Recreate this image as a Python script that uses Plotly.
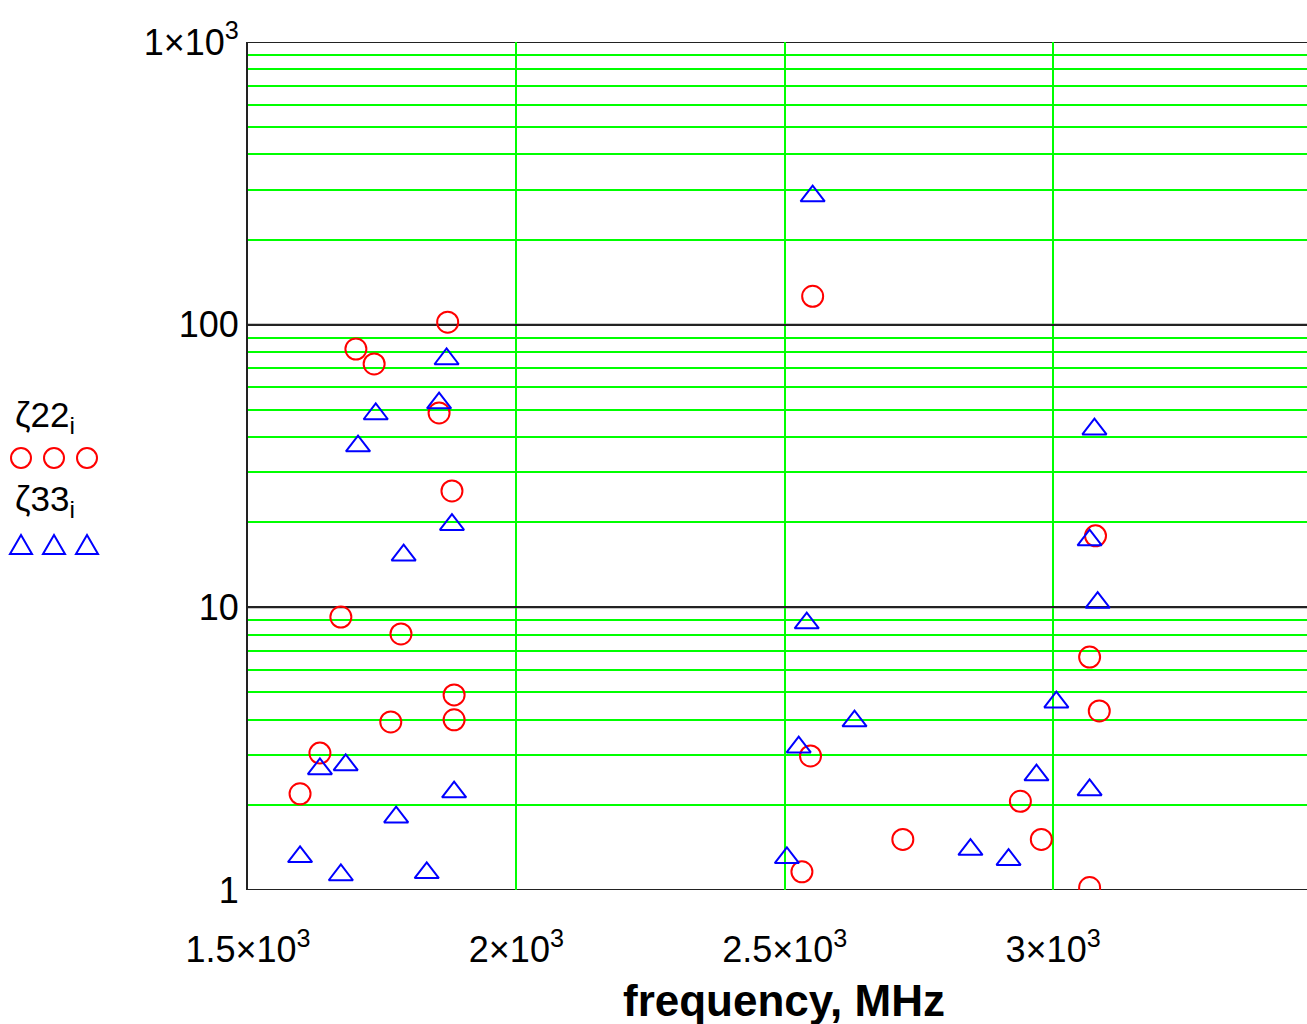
import plotly.graph_objects as go

# ---- data ----
freq22 = [1872, 1701, 1735, 1856, 1880, 1673, 1785, 1884, 1766, 1884, 1634, 1597,
          2552, 2548, 2532, 2720, 2939, 2978, 3068, 3068, 3086, 3079]
zeta22 = [102, 82, 72.6, 48.7, 25.8, 9.24, 8.05, 4.9, 3.93, 4.0, 3.05, 2.19,
          126, 2.98, 1.16, 1.51, 2.06, 1.51, 1.02, 6.67, 4.30, 17.9]

freq33 = [1870, 1856, 1738, 1705, 1880, 1790, 1634, 1682, 1776, 1884, 1597, 1673, 1833,
          2552, 2541, 2526, 2630, 2504, 2846, 2917, 2969, 3006, 3068, 3083, 3068, 3077]
zeta33 = [75.6, 52.8, 48.3, 37.2, 19.6, 15.3, 2.68, 2.77, 1.81, 2.22, 1.31, 1.13, 1.15,
          285, 8.8, 3.2, 3.96, 1.30, 1.39, 1.28, 2.55, 4.62, 2.26, 10.4, 17.3, 42.7]

x_tickvals = [1500, 2000, 2500, 3000]
x_ticktext = ["1.5×10<sup>3</sup>", "2×10<sup>3</sup>", "2.5×10<sup>3</sup>", "3×10<sup>3</sup>"]
decades = [1, 10, 100, 1000]
decade_text = ["1", "10", "100", "1×10<sup>3</sup>"]

# minor grid values 2..9 per decade
y_minor = [d * m for d in decades[:-1] for m in range(2, 10)]

TICKFONT = dict(family="Liberation Sans Narrow, Liberation Sans, Arial", size=36, color="black")
GREEN = "#00FF00"
BLACK = "#222222"

fig = go.Figure()
fig.add_trace(go.Scatter(
    x=freq22, y=zeta22, mode="markers", name="ζ22",
    marker=dict(symbol="circle-open", size=21, color="#FF0000", line=dict(width=2, color="#FF0000")),
))
fig.add_trace(go.Scatter(
    x=freq33, y=zeta33, mode="markers", name="ζ33",
    marker=dict(symbol="triangle-up-open", size=21, color="#0000FF", line=dict(width=2, color="#0000FF")),
))

W, H = 1307, 1024
L, R, T, B = 248, 0, 42, 134
pw, ph = W - L - R, H - T - B

shapes = []
# black decade lines
for d in decades:
    shapes.append(dict(type="line", xref="paper", yref="y", x0=0, x1=1, y0=d, y1=d,
                       line=dict(color=BLACK, width=2), layer="between"))

def px2paper(px, py):
    return (px - L) / pw, (H - B - py) / ph

annotations = []
# legend-like block on the left
for label, py_text, py_sym, kind, col in [
        ("ζ22<sub>i</sub>", 417, 458, "circle", "#FF0000"),
        ("ζ33<sub>i</sub>", 501, 545, "tri", "#0000FF")]:
    ax, ay = px2paper(13, py_text)
    annotations.append(dict(xref="paper", yref="paper", x=ax, y=ay, xanchor="left", yanchor="middle",
                            text=label, showarrow=False,
                            font=dict(family="Liberation Sans Narrow, Liberation Sans", size=35, color="black")))
    for cx in [21, 54, 87]:
        sx, sy = px2paper(cx, py_sym)
        if kind == "circle":
            shapes.append(dict(type="circle", xref="paper", yref="paper", xsizemode="pixel", ysizemode="pixel",
                               xanchor=sx, yanchor=sy, x0=-10, x1=10, y0=-10, y1=10,
                               line=dict(color=col, width=2)))
        else:
            shapes.append(dict(type="path", xref="paper", yref="paper", xsizemode="pixel", ysizemode="pixel",
                               xanchor=sx, yanchor=sy, path="M-11,-9 L11,-9 L0,10 Z",
                               line=dict(color=col, width=2)))

# x-axis title
tx, ty = px2paper(784, 1000)
annotations.append(dict(xref="paper", yref="paper", x=tx, y=ty, xanchor="center", yanchor="middle",
                        text="<b>frequency, MHz</b>", showarrow=False,
                        font=dict(family="Liberation Sans, Arial", size=44, color="black")))

fig.update_layout(
    width=W, height=H,
    margin=dict(l=L, r=R, t=T, b=B, pad=0),
    paper_bgcolor="white", plot_bgcolor="white",
    showlegend=False,
    shapes=shapes, annotations=annotations,
    xaxis=dict(range=[1500, 3473], tickvals=x_tickvals, ticktext=x_ticktext,
               showgrid=True, gridcolor=GREEN, gridwidth=2, zeroline=False,
               showline=False, ticks="", ticklen=0, tickfont=TICKFONT, ticklabelstandoff=35),
    yaxis=dict(type="log", range=[0, 3], tickvals=decades, ticktext=decade_text,
               showgrid=True, gridcolor=BLACK, gridwidth=2, zeroline=False,
               minor=dict(tickvals=y_minor, showgrid=True, gridcolor=GREEN, gridwidth=2, ticks=""),
               showline=True, linecolor=BLACK, linewidth=2,
               ticks="", ticklen=0, tickfont=TICKFONT, ticklabelstandoff=0),
)

fig.write_html("out.html")
